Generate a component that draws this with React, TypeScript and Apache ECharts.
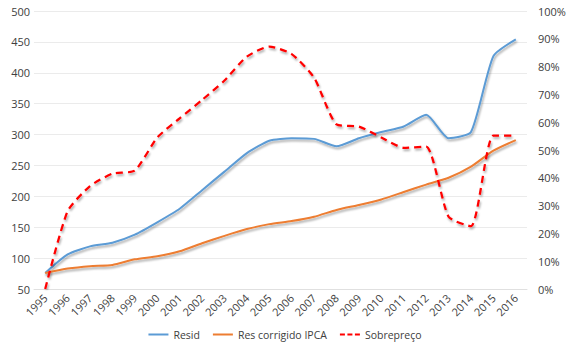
import React, { useEffect, useRef } from "react";
import * as echarts from "echarts";

const years = ["1995","1996","1997","1998","1999","2000","2001","2002","2003","2004","2005","2006","2007","2008","2009","2010","2011","2012","2013","2014","2015","2016"];
const resid = [76,106,119,125,138,158,180,210,240,270,290,294,293,281,294,304,313,332,294,304,427,454];
const resCorrigido = [76,83,87,89,98,103,111,124,136,147,155,160,167,178,186,195,207,219,230,248,274,291];
const sobrepreco = [0,0.28,0.37,0.415,0.426,0.545,0.614,0.68,0.75,0.836,0.872,0.845,0.76,0.592,0.584,0.545,0.508,0.512,0.26,0.226,0.552,0.552];

const font = "'Open Sans', 'Liberation Sans', sans-serif";
const shadow = { shadowColor: "rgba(0,0,0,0.35)", shadowBlur: 2, shadowOffsetX: 1, shadowOffsetY: 2 };
const solidIcon = "path://M0,0H20V2H0Z";
const dashIcon = "path://M0,0H5V2H0Z M7.5,0H12.5V2H7.5Z M15,0H20V2H15Z";

export default function App() {
  const ref = useRef<HTMLDivElement>(null);
  useEffect(() => {
    const chart = echarts.init(ref.current!, null, { renderer: "svg" });
    chart.setOption({
      animation: false,
      textStyle: { fontFamily: font },
      grid: { left: 34, right: 43, top: 11, bottom: 64 },
      legend: {
        bottom: 8,
        left: "center",
        itemWidth: 20,
        itemHeight: 2,
        itemGap: 13,
        textStyle: { fontSize: 10.5, color: "#404040", fontFamily: font },
        data: [
          { name: "Resid", icon: solidIcon },
          { name: "Res corrigido IPCA", icon: solidIcon },
          { name: "Sobrepreço", icon: dashIcon },
        ],
      },
      xAxis: {
        type: "category",
        data: years,
        boundaryGap: true,
        axisLine: { lineStyle: { color: "#E0E0E0" } },
        axisTick: { show: false },
        axisLabel: { rotate: 45, fontSize: 11, color: "#404040", margin: 7, interval: 0, fontFamily: font },
      },
      yAxis: [
        {
          type: "value",
          min: 50,
          max: 500,
          interval: 50,
          axisLine: { show: false },
          axisTick: { show: false },
          splitLine: { lineStyle: { color: "#EBEBEB" } },
          axisLabel: { fontSize: 11, color: "#404040", margin: 4, fontFamily: font },
        },
        {
          type: "value",
          min: 0,
          max: 1,
          interval: 0.1,
          position: "right",
          axisLine: { show: false },
          axisTick: { show: false },
          splitLine: { show: false },
          axisLabel: { fontSize: 11, color: "#404040", margin: 11, fontFamily: font, formatter: (v: number) => Math.round(v * 100) + "%" },
        },
      ],
      series: [
        {
          name: "Resid",
          type: "line",
          data: resid,
          yAxisIndex: 0,
          smooth: 0.2,
          symbol: "none",
          color: "#5B9BD5",
          lineStyle: { width: 2, color: "#5B9BD5", ...shadow },
        },
        {
          name: "Res corrigido IPCA",
          type: "line",
          data: resCorrigido,
          yAxisIndex: 0,
          smooth: 0.2,
          symbol: "none",
          color: "#ED7D31",
          lineStyle: { width: 2, color: "#ED7D31", ...shadow },
        },
        {
          name: "Sobrepreço",
          type: "line",
          data: sobrepreco,
          yAxisIndex: 1,
          smooth: 0.2,
          symbol: "none",
          color: "#FF0000",
          lineStyle: { width: 2.25, color: "#FF0000", type: [7, 5], ...shadow },
        },
      ],
    });
    return () => chart.dispose();
  }, []);
  return <div ref={ref} style={{ width: 570, height: 353, position: "absolute", left: 0, top: 0 }} />;
}
